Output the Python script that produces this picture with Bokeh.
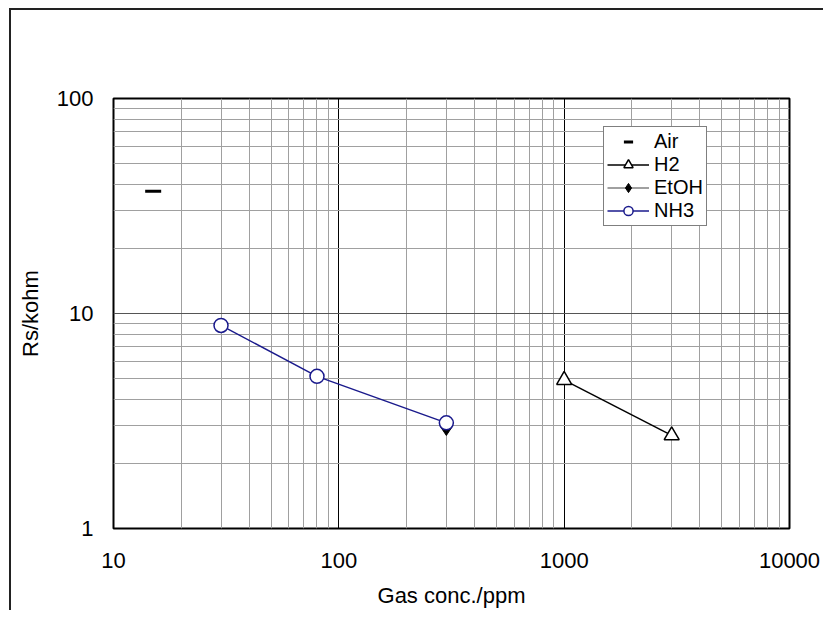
from bokeh.plotting import figure
from bokeh.models import (FixedTicker, CustomJSTickFormatter, Legend, LegendItem, Label, Range1d)
from bokeh.embed import file_html
from bokeh.resources import INLINE

# ---- data ----
air_x = [15]
air_y = [37]
h2_x = [1000, 3000]
h2_y = [4.9, 2.71]
etoh_x = [300]
etoh_y = [2.95]
nh3_x = [30, 80, 300]
nh3_y = [8.8, 5.1, 3.1]

x_major = [10, 100, 1000, 10000]
y_major = [1, 10, 100]
x_minor = [m * d for d in (10, 100, 1000) for m in range(2, 10)]
y_minor = [m * d for d in (1, 10) for m in range(2, 10)]

title_text = "exp-AL01 sensitivity dependency"
FONT = "Liberation Sans"

p = figure(x_axis_type="log", y_axis_type="log",
           x_range=Range1d(10, 10000), y_range=Range1d(1, 100),
           frame_width=676, frame_height=430,
           min_border_left=102, min_border_top=88, min_border_right=34, min_border_bottom=78,
           output_backend="svg", toolbar_location=None,
           background_fill_color="white", border_fill_color="white",
           outline_line_color="black", outline_line_width=2,
           styles={"border-left": "2px solid #222", "border-top": "2px solid #222",
                   "border-right": "none", "border-bottom": "none",
                   "margin-left": "9px", "margin-top": "8px"})

fmt = CustomJSTickFormatter(code="return tick.toFixed(0);")
p.xaxis.ticker = FixedTicker(ticks=x_major, minor_ticks=x_minor)
p.yaxis.ticker = FixedTicker(ticks=y_major, minor_ticks=y_minor)
p.xaxis.formatter = fmt
p.yaxis.formatter = fmt

for ax in (p.xaxis, p.yaxis):
    ax.axis_line_color = None
    ax.major_tick_line_color = None
    ax.minor_tick_line_color = None
    ax.major_tick_out = 0
    ax.major_tick_in = 0
    ax.minor_tick_out = 0
    ax.minor_tick_in = 0
    ax.major_label_text_font = FONT
    ax.major_label_text_font_size = "22px"
    ax.major_label_text_color = "black"
    ax.axis_label_text_font = FONT
    ax.axis_label_text_font_size = "22px"
    ax.axis_label_text_font_style = "normal"
    ax.axis_label_text_color = "black"

p.xaxis.axis_label = "Gas conc./ppm"
p.yaxis.axis_label = "Rs/kohm"
p.xaxis.major_label_standoff = 24
p.xaxis.axis_label_standoff = 12
p.yaxis.major_label_standoff = 20
p.yaxis.axis_label_standoff = 11

p.xgrid.grid_line_color = "black"
p.xgrid.grid_line_width = 1
p.ygrid.grid_line_color = "#555555"
p.ygrid.grid_line_width = 1
p.xgrid.minor_grid_line_color = "#a0a0a0"
p.ygrid.minor_grid_line_color = "#a0a0a0"

# ---- series ----
r_air = p.scatter(air_x, air_y, marker="dash", size=16, line_color="black", line_width=3)

l_h2 = p.line(h2_x, h2_y, line_color="black", line_width=1.5)
s_h2 = p.scatter(h2_x, h2_y, marker="triangle", size=15, fill_color="white",
                 line_color="black", line_width=1.5)

l_etoh = p.line(etoh_x, etoh_y, line_color="#808080", line_width=1.5)
s_etoh = p.scatter(etoh_x, etoh_y, marker="diamond", size=16, fill_color="black",
                   line_color="black")

l_nh3 = p.line(nh3_x, nh3_y, line_color="#1a1a8c", line_width=1.5)
s_nh3 = p.scatter(nh3_x, nh3_y, marker="circle", size=14, fill_color="white",
                  line_color="#1a1a8c", line_width=1.5)

legend = Legend(items=[
    LegendItem(label="Air", renderers=[r_air]),
    LegendItem(label="H2", renderers=[l_h2, s_h2]),
    LegendItem(label="EtOH", renderers=[l_etoh, s_etoh]),
    LegendItem(label="NH3", renderers=[l_nh3, s_nh3]),
], location=(490, 302))
legend.label_text_font = FONT
legend.label_text_font_size = "20px"
legend.label_text_color = "black"
legend.border_line_color = "black"
legend.border_line_width = 1
legend.background_fill_color = "white"
legend.background_fill_alpha = 1
legend.glyph_width = 42
legend.glyph_height = 23
legend.label_height = 22
legend.spacing = 0
legend.padding = 3
legend.margin = 0
legend.label_standoff = 5
p.add_layout(legend)

title = Label(x=212, y=172, text=title_text, text_align="center", text_baseline="middle",
              text_font=FONT, text_font_size="20px", text_color="black")
p.add_layout(title)

open("out.html", "w").write(file_html(p, INLINE))
